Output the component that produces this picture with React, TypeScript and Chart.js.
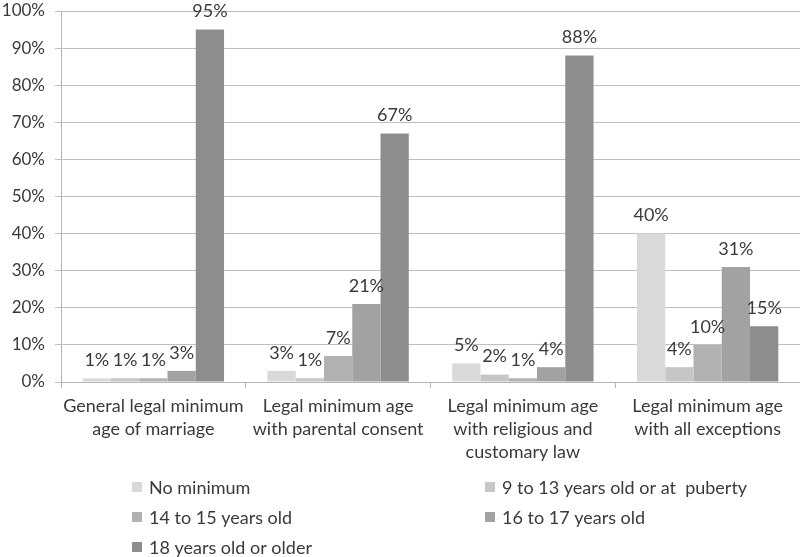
import React, { useEffect, useRef } from "react";
import { Chart, registerables } from "chart.js";

Chart.register(...registerables);

const categories: string[][] = [
  ["General legal minimum", "age of marriage"],
  ["Legal minimum age", "with parental consent"],
  ["Legal minimum age", "with religious and", "customary law"],
  ["Legal minimum age", "with all exceptions"],
];
const seriesNames = [
  "No minimum",
  "9 to 13 years old or at  puberty",
  "14 to 15 years old",
  "16 to 17 years old",
  "18 years old or older",
];
const noMinimum = [1, 3, 5, 40];
const age9to13 = [1, 1, 2, 4];
const age14to15 = [1, 7, 1, 10];
const age16to17 = [3, 21, 4, 31];
const age18plus = [95, 67, 88, 15];
const yTicks = [0, 10, 20, 30, 40, 50, 60, 70, 80, 90, 100];

const colors = ["#d9d9d9", "#c6c6c6", "#b1b1b1", "#a2a2a2", "#8d8d8d"];
const FONT = "Lato";
const FSIZE = 18;
const TEXT = "#3a3a3a";

export default function App() {
  const ref = useRef<HTMLCanvasElement | null>(null);
  useEffect(() => {
    document.body.style.margin = "0";
    const ctx = ref.current!.getContext("2d")!;
    const values = [noMinimum, age9to13, age14to15, age16to17, age18plus];

    const labelPlugin = {
      id: "valueLabels",
      afterDatasetsDraw(chart: any) {
        const c = chart.ctx;
        c.save();
        c.font = `${FSIZE}px ${FONT}`;
        c.fillStyle = TEXT;
        c.textAlign = "center";
        c.textBaseline = "middle";
        chart.data.datasets.forEach((ds: any, i: number) => {
          const meta = chart.getDatasetMeta(i);
          meta.data.forEach((bar: any, j: number) => {
            c.fillText(ds.data[j] + "%", bar.x, bar.y - 18);
          });
        });
        c.restore();
      },
    };

    const legendPlugin = {
      id: "gridLegend",
      afterDraw(chart: any) {
        const c = chart.ctx;
        c.save();
        c.font = `${FSIZE}px ${FONT}`;
        c.textBaseline = "middle";
        c.textAlign = "left";
        const colX = [132, 485];
        const rowY = [487, 517, 547];
        seriesNames.forEach((name, i) => {
          const col = i % 2;
          const row = Math.floor(i / 2);
          const x = colX[col];
          const y = rowY[row];
          c.fillStyle = colors[i];
          c.fillRect(x, y - 5, 10, 10);
          c.fillStyle = TEXT;
          c.fillText(name, x + 17, y + 1);
        });
        c.restore();
      },
    };

    const chart = new Chart(ctx, {
      type: "bar",
      data: {
        labels: categories,
        datasets: seriesNames.map((n, i) => ({
          label: n,
          data: values[i],
          backgroundColor: colors[i],
          borderWidth: 0,
          barPercentage: 1,
          categoryPercentage: 0.765,
        })),
      },
      options: {
        responsive: false,
        animation: false,
        layout: { padding: { top: 11, right: 0, left: 0, bottom: 0 } },
        plugins: {
          legend: { display: false },
          tooltip: { enabled: false },
        },
        scales: {
          x: {
            afterFit: (s: any) => {
              s.height = 175;
              s.paddingLeft = 0;
              s.paddingRight = 0;
            },
            grid: {
              offset: true,
              drawOnChartArea: false,
              color: "#b5b5b5",
              tickLength: 6,
            },
            border: { color: "#b5b5b5" },
            ticks: {
              color: TEXT,
              font: { family: FONT, size: FSIZE, lineHeight: 1.28 },
              padding: 7,
              maxRotation: 0,
            },
          },
          y: {
            min: 0,
            max: 100,
            afterFit: (s: any) => {
              s.width = 61;
              s.paddingTop = 0;
              s.paddingBottom = 0;
            },
            afterBuildTicks: (s: any) => {
              s.ticks = yTicks.map((v) => ({ value: v }));
            },
            grid: { color: "#bfbfbf", tickLength: 6 },
            border: { color: "#b5b5b5" },
            ticks: {
              color: TEXT,
              font: { family: FONT, size: 17 },
              padding: 10,
              callback: (v: any) => v + "%",
            },
          },
        },
      },
      plugins: [labelPlugin, legendPlugin],
    });
    return () => chart.destroy();
  }, []);
  return (
    <div style={{ width: 800, height: 557, background: "#fff" }}>
      <canvas ref={ref} width={800} height={557} />
    </div>
  );
}
